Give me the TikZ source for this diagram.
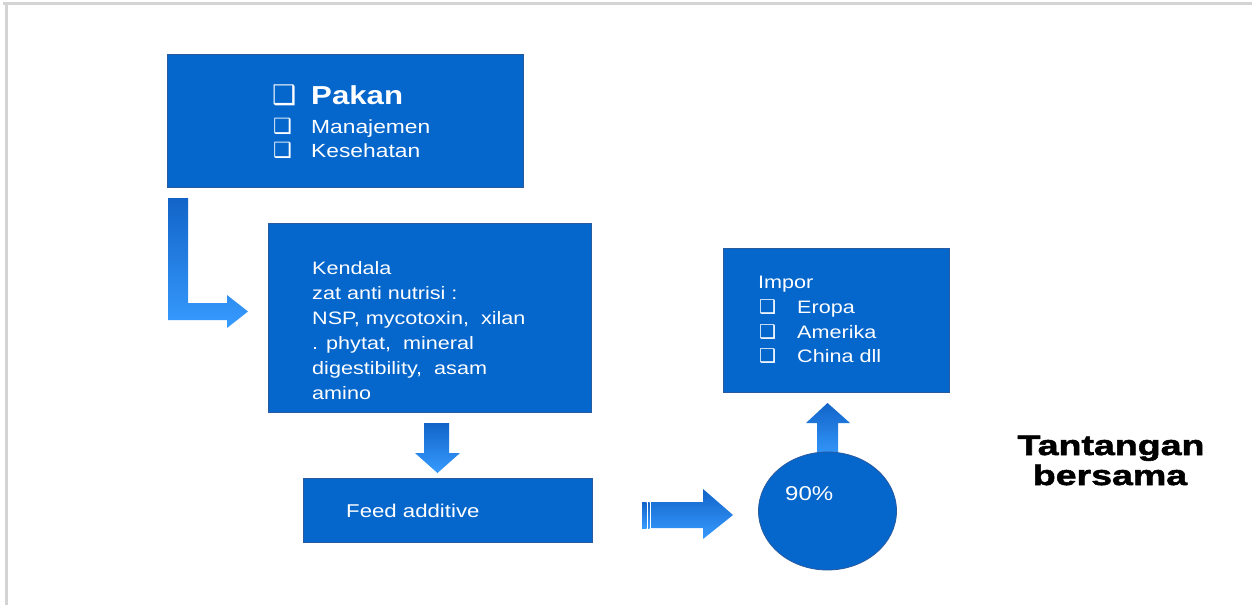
\documentclass[tikz,border=0pt]{standalone}
\usepackage{fontspec}
\setmainfont{Liberation Sans}[FakeStretch=1.2]
\newfontfamily\symfont{DejaVu Sans}
\newfontfamily\blackfont{Liberation Sans}[FakeStretch=1.34,FakeBold=2]
\usetikzlibrary{shapes.geometric}
\definecolor{boxblue}{RGB}{5,102,204}
\definecolor{boxedge}{RGB}{40,90,160}
\definecolor{arrdark}{RGB}{18,100,200}
\definecolor{arrlight}{RGB}{55,155,255}
\definecolor{frame}{RGB}{212,212,212}
\tikzset{
  box/.style={draw=boxedge, line width=0.8pt, fill=boxblue, anchor=north west, inner sep=0pt},
  txt/.style={anchor=base west, inner sep=0pt, text=white},
  barrow/.style={top color=arrdark, bottom color=arrlight, draw=none},
  chk/.style={anchor=base west, inner sep=0pt, text=white, font=\symfont\fontsize{21}{21}\selectfont},
}
\begin{document}
\begin{tikzpicture}[x=1pt,y=-1pt]
\useasboundingbox (0,0) rectangle (1252,605);
\fill[white] (0,0) rectangle (1252,605);
% frame lines
\draw[frame, line width=3pt] (3,3.5) -- (1252,3.5);
\draw[frame, line width=3pt] (6.5,3) -- (6.5,605);

% Box 1
\node[box, minimum width=356pt, minimum height=133pt] (pakan) at (167,54) {};
\node[chk, font=\symfont\fontsize{27}{27}\selectfont] (c0) at (272,104) {❑};
\node[txt, font=\bfseries\fontsize{26}{26}\selectfont] (t0) at (311,104) {Pakan};
\node[chk] (c1) at (273,133) {❑};
\node[txt, font=\fontsize{19}{19}\selectfont] (t1) at (311,133) {Manajemen};
\node[chk] (c2) at (273,157) {❑};
\node[txt, font=\fontsize{19}{19}\selectfont] (t2) at (311,157) {Kesehatan};

% L arrow
\path[barrow] (168,198) -- (188,198) -- (188,303) -- (227,303) -- (227,295) -- (248,311.5) -- (227,328) -- (227,320) -- (168,320) -- cycle;

% Box 2
\node[box, minimum width=323pt, minimum height=189pt] (kendala) at (268,223) {};
\foreach \t/\yy [count=\i] in {Kendala/274, zat anti nutrisi :/299, {NSP, mycotoxin,\ \ xilan}/324, {. phytat,\ \ mineral}/349, {digestibility,\ \ asam}/374, amino/399}{
  \node[txt, font=\fontsize{18}{18}\selectfont] (k\i) at (312,\yy) {\t};
}

% down arrow
\path[barrow] (424,423) -- (449,423) -- (449,453) -- (460,453) -- (437.5,473) -- (415,453) -- (424,453) -- cycle;

% Box 3
\node[box, minimum width=289pt, minimum height=64pt] (feed) at (303,478) {};
\node[txt, font=\fontsize{18.5}{18.5}\selectfont] (ft) at (346,517) {Feed additive};

% right striped arrow
\path[barrow] (642,502) rectangle (646.5,528);
\path[barrow] (648,502) rectangle (649.6,528);
\path[barrow] (651,502) -- (703,502) -- (703,489) -- (733,515) -- (703,539) -- (703,528) -- (651,528) -- cycle;

% up arrow
\path[barrow] (817,460) -- (817,423) -- (806,423) -- (827.5,403) -- (850,423) -- (838,423) -- (838,460) -- cycle;

% circle
\node[ellipse, draw=boxedge, line width=0.8pt, fill=boxblue, minimum width=138pt, minimum height=118pt, inner sep=0pt] (circ) at (827.5,511) {};
\node[txt, font=\fontsize{20}{20}\selectfont] (pct) at (785,500) {90\%};

% Impor box
\node[box, minimum width=226pt, minimum height=144pt] (impor) at (723,248) {};
\node[txt, font=\fontsize{18}{18}\selectfont] (i0) at (758,288) {Impor};
\foreach \t/\yy [count=\i] in {Eropa/313, Amerika/338, China dll/362}{
  \node[chk, font=\symfont\fontsize{19}{19}\selectfont] (ic\i) at (759,\yy) {❑};
  \node[txt, font=\fontsize{18}{18}\selectfont] (it\i) at (797,\yy) {\t};
}

% Tantangan bersama
\node[anchor=base, inner sep=0pt, font=\blackfont\bfseries\fontsize{28}{28}\selectfont] (tan1) at (1111,455) {Tantangan};
\node[anchor=base, inner sep=0pt, font=\blackfont\bfseries\fontsize{28}{28}\selectfont] (tan2) at (1110,485) {bersama};
\end{tikzpicture}
\end{document}
